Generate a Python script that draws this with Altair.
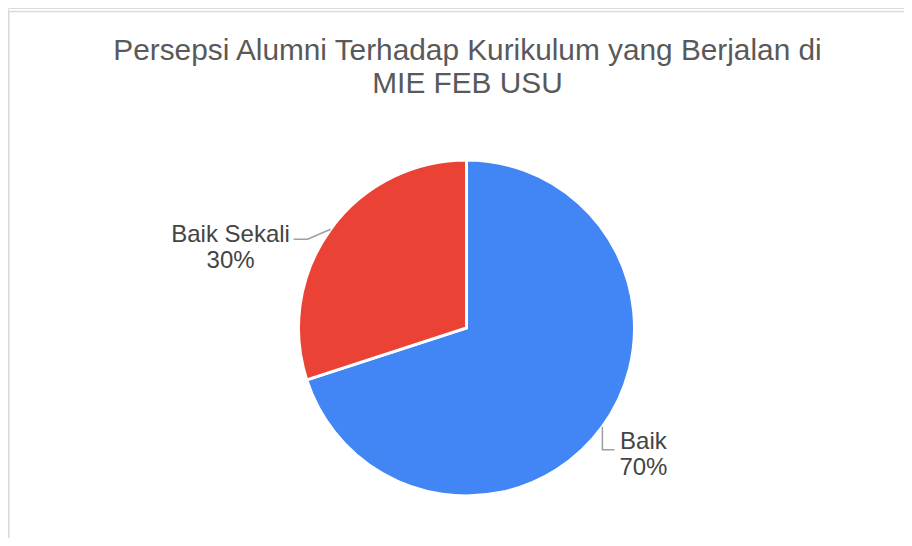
import altair as alt
import pandas as pd
import numpy as np

# ---- data ----
categories = ["Baik", "Baik Sekali"]
values = [70, 30]
colors = ["#4285F4", "#EA4335"]
title_lines = ["Persepsi Alumni Terhadap Kurikulum yang Berjalan di", "MIE FEB USU"]

# ---- layout / style ----
W, H = 896, 530
CX, CY, R = 458.5, 320, 167
FONT = "Liberation Sans, Arial, sans-serif"

leader_style = {
    "Baik": {"elbow": (0, 23), "tail": (12, 0), "text": (29, -1)},
    "Baik Sekali": {"elbow": (-23, 10), "tail": (-14, 0), "text": (-63, 3)},
}

df = pd.DataFrame({"category": categories, "value": values,
                   "order": list(range(len(categories)))})
total = float(sum(values))
df["label"] = [f"{c}\n{round(v / total * 100)}%" for c, v in zip(categories, values)]
vals = np.array(values, dtype=float)
start = np.cumsum(vals) - vals
mid = (start + vals / 2) / total * 2 * np.pi

line_rows, text_rows = [], []
for cat, lab, a in zip(categories, df["label"], mid):
    st = leader_style[cat]
    p0 = (CX + (R + 1) * np.sin(a), CY - (R + 1) * np.cos(a))
    p1 = (p0[0] + st["elbow"][0], p0[1] + st["elbow"][1])
    p2 = (p1[0] + st["tail"][0], p1[1] + st["tail"][1])
    for i, p in enumerate([p0, p1, p2]):
        line_rows.append({"category": cat, "seq": i, "x": p[0], "y": p[1]})
    text_rows.append({"category": cat, "label": lab,
                      "x": p2[0] + st["text"][0], "y": p2[1] + st["text"][1]})
lines_df = pd.DataFrame(line_rows)
texts_df = pd.DataFrame(text_rows)

pie = alt.Chart(df).mark_arc(stroke="white", strokeWidth=3, radius=R + 1).encode(
    theta=alt.Theta("value:Q", stack=True),
    color=alt.Color("category:N", scale=alt.Scale(domain=categories, range=colors), legend=None),
    order=alt.Order("order:Q"),
    x=alt.value(CX),
    y=alt.value(CY),
)

leaders = alt.Chart(lines_df).mark_line(color="#9e9e9e", strokeWidth=1.5).encode(
    x=alt.X("x:Q", scale=None),
    y=alt.Y("y:Q", scale=None),
    detail="category:N",
    order="seq:Q",
)

labels = alt.Chart(texts_df).mark_text(
    align="center", baseline="alphabetic", lineBreak="\n", lineHeight=26,
    fontSize=24, font=FONT, color="#444444",
).encode(
    x=alt.X("x:Q", scale=None),
    y=alt.Y("y:Q", scale=None),
    text="label:N",
)

title = alt.Chart(pd.DataFrame({"t": ["\n".join(title_lines)]})).mark_text(
    align="center", baseline="alphabetic", lineBreak="\n", lineHeight=33,
    fontSize=29.8, font=FONT, color="#595959",
).encode(x=alt.value(459.5), y=alt.value(52), text="t:N")

border_v = alt.Chart(pd.DataFrame({"a": [0]})).mark_rule(color="#d9d9d9", strokeWidth=1.5).encode(
    x=alt.value(0.75), y=alt.value(3), y2=alt.value(H))
border_h = alt.Chart(pd.DataFrame({"a": [0]})).mark_rule(color="#d9d9d9", strokeWidth=1.5).encode(
    x=alt.value(0), x2=alt.value(W), y=alt.value(3.5))

chart = alt.layer(border_v, border_h, pie, leaders, labels, title).properties(
    width=W, height=H, padding=0, autosize=alt.AutoSizeParams(type="none")
).configure_view(stroke=None).configure(background="white")

chart.save("out.html", embed_options={"renderer": "svg", "actions": False})
